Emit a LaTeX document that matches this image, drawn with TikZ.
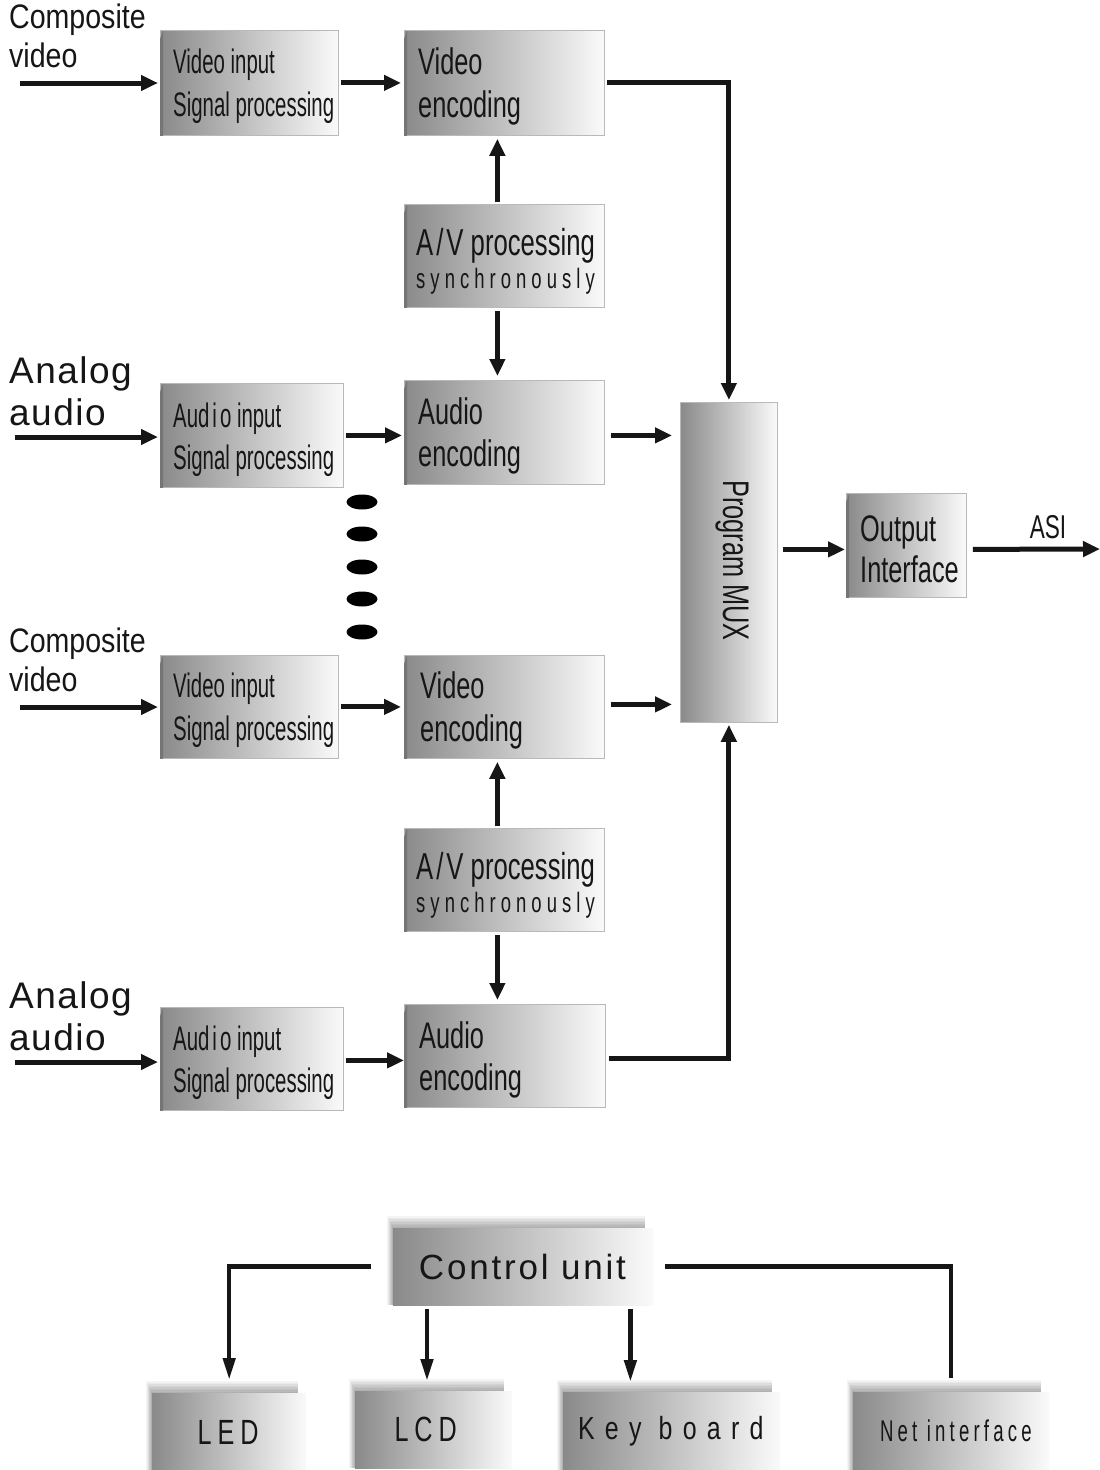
\documentclass[tikz,border=0pt]{standalone}
\usepackage{fontspec}
\setmainfont{Liberation Sans}
\newfontfamily\fA[FakeStretch=0.60]{Liberation Sans}
\newfontfamily\fB[FakeStretch=0.685]{Liberation Sans}
\newfontfamily\fC[FakeStretch=0.84]{Liberation Sans}
\newfontfamily\fSync[FakeStretch=0.66,LetterSpace=18]{Liberation Sans}
\newfontfamily\fLed[FakeStretch=0.72,LetterSpace=17]{Liberation Sans}
\newfontfamily\fKey[FakeStretch=0.78,LetterSpace=32]{Liberation Sans}
\newfontfamily\fNet[FakeStretch=0.62,LetterSpace=14]{Liberation Sans}
\newfontfamily\fCtl[LetterSpace=8]{Liberation Sans}
\newfontfamily\fAna[LetterSpace=4]{Liberation Sans}
\usetikzlibrary{arrows.meta,shapes.geometric,calc}
\definecolor{gdark}{RGB}{138,138,138}
\definecolor{glight}{RGB}{250,250,250}
\definecolor{edgec}{RGB}{185,185,185}
\definecolor{ink}{RGB}{22,22,22}
\newcommand{\bevl}[1]{\fill[gdark!85!black] ([yshift=-9pt]#1.north west) -- ([xshift=3pt,yshift=-1pt]#1.north west) -- ([xshift=3pt]#1.south west) -- (#1.south west) -- cycle;}
\newcommand{\sbx}[7]{%
  \foreach \k in {1,...,8}{\fill[black,opacity=0.045] ({#2-0.7*\k},{#3-1.5*\k}) rectangle ({#2+#4-8},{#3+#5});}
  \node[sbox, minimum width=#4pt, minimum height=#5pt] (#1) at (#2,#3) {#6 #7};}
\begin{document}
\begin{tikzpicture}[x=1pt,y=-1pt,
  blk/.style={draw=edgec, line width=0.8pt, left color=gdark, right color=glight, anchor=north west, inner sep=0pt},
  sbox/.style={left color=gdark, right color=glight, anchor=north west, inner sep=0pt, text=ink},
  lbl/.style={anchor=west, align=left, inner sep=0pt, text=ink},
  ext/.style={anchor=north west, align=left, inner sep=0pt, text=ink},
  arr/.style={line width=5pt, draw=ink, -{Triangle[length=17pt,width=15pt]}},
  carr/.style={line width=4.5pt, draw=ink, -{Triangle[length=22pt,width=12pt]}},
  cline/.style={line width=4.5pt, draw=ink},
  dotn/.style={ellipse, fill=black, minimum width=31pt, minimum height=15pt, inner sep=0pt},
]
\path[use as bounding box, fill=white] (0,0) rectangle (1100,1470);

% ---------- external labels ----------
\node[ext, font=\fC\fontsize{34}{39}\selectfont] (lcv1) at (9,3.5) {Composite\\video};
\node[ext, font=\fAna\fontsize{37}{42}\selectfont] (laa1) at (9,356) {Analog\\audio};
\node[ext, font=\fC\fontsize{34}{39}\selectfont] (lcv2) at (9,627.5) {Composite\\video};
\node[ext, font=\fAna\fontsize{37}{42}\selectfont] (laa2) at (9,981) {Analog\\audio};

% ---------- first channel ----------
\node[blk, minimum width=178pt, minimum height=105pt] (vis1) at (160,30) {};
\bevl{vis1}
\node[lbl, font=\fA\fontsize{34}{43}\selectfont] (vis1t) at ([xshift=13pt,yshift=-3pt]vis1.west) {Video input\\Signal processing};

\node[blk, minimum width=200pt, minimum height=105pt] (ve1) at (404,30) {};
\bevl{ve1}
\node[lbl, font=\fB\fontsize{37}{43}\selectfont] (ve1t) at ([xshift=14pt,yshift=-4pt]ve1.west) {Video\\encoding};

\node[blk, minimum width=200pt, minimum height=103pt] (av1) at (404,204) {};
\bevl{av1}
\node[lbl, font=\fontsize{28}{33}\selectfont] (av1t) at ([xshift=12pt,yshift=-5pt]av1.west) {{\fB\fontsize{37.5}{37.5}\selectfont A\kern3pt/\kern3pt V processing}\\{\fSync\fontsize{28}{33}\selectfont synchronously}};

\node[blk, minimum width=183pt, minimum height=104pt] (ai1) at (160,383) {};
\bevl{ai1}
\node[lbl, font=\fA\fontsize{34}{42}\selectfont] (ai1t) at ([xshift=13pt,yshift=-4pt]ai1.west) {Aud\kern3pt i\kern3pt o input\\Signal processing};

\node[blk, minimum width=200pt, minimum height=104pt] (ae1) at (404,380) {};
\bevl{ae1}
\node[lbl, font=\fB\fontsize{37}{42}\selectfont] (ae1t) at ([xshift=14pt,yshift=-4pt]ae1.west) {Audio\\encoding};

% ---------- dots ----------
\node[dotn] (d1) at (362,502) {};
\node[dotn] (d2) at (362,534) {};
\node[dotn] (d3) at (362,567) {};
\node[dotn] (d4) at (362,599) {};
\node[dotn] (d5) at (362,632) {};

% ---------- second channel ----------
\node[blk, minimum width=178pt, minimum height=103pt] (vis2) at (160,655) {};
\bevl{vis2}
\node[lbl, font=\fA\fontsize{34}{43}\selectfont] (vis2t) at ([xshift=13pt,yshift=-3pt]vis2.west) {Video input\\Signal processing};

\node[blk, minimum width=200pt, minimum height=103pt] (ve2) at (404,655) {};
\bevl{ve2}
\node[lbl, font=\fB\fontsize{37}{43}\selectfont] (ve2t) at ([xshift=16pt,yshift=-4pt]ve2.west) {Video\\encoding};

\node[blk, minimum width=200pt, minimum height=103pt] (av2) at (404,828) {};
\bevl{av2}
\node[lbl, font=\fontsize{28}{33}\selectfont] (av2t) at ([xshift=12pt,yshift=-5pt]av2.west) {{\fB\fontsize{37.5}{37.5}\selectfont A\kern3pt/\kern3pt V processing}\\{\fSync\fontsize{28}{33}\selectfont synchronously}};

\node[blk, minimum width=183pt, minimum height=103pt] (ai2) at (160,1007) {};
\bevl{ai2}
\node[lbl, font=\fA\fontsize{34}{42}\selectfont] (ai2t) at ([xshift=13pt,yshift=-4pt]ai2.west) {Aud\kern3pt i\kern3pt o input\\Signal processing};

\node[blk, minimum width=201pt, minimum height=103pt] (ae2) at (404,1004) {};
\bevl{ae2}
\node[lbl, font=\fB\fontsize{37}{42}\selectfont] (ae2t) at ([xshift=15pt,yshift=-4pt]ae2.west) {Audio\\encoding};

% ---------- MUX and output ----------
\node[blk, minimum width=97pt, minimum height=320pt] (mux) at (680,402) {};
\node[rotate=-90, font=\fB\fontsize{37}{40}\selectfont, text=ink, inner sep=0pt] (muxt) at ([xshift=3pt,yshift=2pt]mux.center) {Program MUX};

\node[blk, minimum width=120pt, minimum height=104pt] (out) at (846,493) {};
\bevl{out}
\node[lbl, font=\fB\fontsize{37}{41}\selectfont] (outt) at ([xshift=14pt,yshift=-4pt]out.west) {Output\\Interface};

\node[anchor=base, font=\fB\fontsize{33}{33}\selectfont, inner sep=0pt, text=ink] (asi) at (1048,538) {ASI};

% ---------- connectors, top ----------
\coordinate (cv1) at (20,83);
\draw[arr, shorten >=2pt] (cv1) -- (cv1 -| vis1.west);
\draw[arr, shorten <=2pt, shorten >=3pt] (vis1.east) -- (vis1.east -| ve1.west);
\draw[arr, shorten <=2pt, shorten >=2pt] (ve1.east) -| (mux.north);
\coordinate (av1n) at ([xshift=-7pt]av1.north);
\coordinate (av1s) at ([xshift=-7pt]av1.south);
\draw[arr, shorten <=2pt, shorten >=3pt] (av1n) -- (av1n |- ve1.south);
\draw[arr, shorten <=3pt, shorten >=4pt] (av1s) -- (av1s |- ae1.north);
\coordinate (aa1) at (15,437);
\draw[arr, shorten >=2pt] (aa1) -- (aa1 -| ai1.west);
\draw[arr, shorten <=2pt, shorten >=2pt] (ai1.east) -- (ai1.east -| ae1.west);
\coordinate (ae1o) at ([yshift=-3pt]ae1.east);
\draw[arr, shorten <=6pt, shorten >=8pt] (ae1o) -- (ae1o -| mux.west);

% ---------- connectors, second ----------
\coordinate (cv2) at (20,707);
\draw[arr, shorten >=2pt] (cv2) -- (cv2 -| vis2.west);
\draw[arr, shorten <=2pt, shorten >=3pt] (vis2.east) -- (vis2.east -| ve2.west);
\coordinate (ve2o) at ([yshift=2.5pt]ve2.east);
\draw[arr, shorten <=6pt, shorten >=8pt] (ve2o) -- (ve2o -| mux.west);
\coordinate (av2n) at ([xshift=-7pt]av2.north);
\coordinate (av2s) at ([xshift=-7pt]av2.south);
\draw[arr, shorten <=2pt, shorten >=3pt] (av2n) -- (av2n |- ve2.south);
\draw[arr, shorten <=3pt, shorten >=4pt] (av2s) -- (av2s |- ae2.north);
\coordinate (aa2) at (15,1062);
\draw[arr, shorten >=2pt] (aa2) -- (aa2 -| ai2.west);
\coordinate (ai2o) at ([yshift=-1.5pt]ai2.east);
\draw[arr, shorten <=2pt, shorten >=0pt] (ai2o) -- (ai2o -| ae2.west);
\coordinate (ae2o) at ([yshift=-2.5pt]ae2.east);
\draw[arr, shorten <=3pt, shorten >=2pt] (ae2o) -| (mux.south);

% ---------- MUX to output ----------
\coordinate (mo) at ([yshift=-4pt]out.west);
\draw[arr, shorten <=5pt, shorten >=1pt] (mo -| mux.east) -- (mo);
\coordinate (asiend) at (1100,549);
\draw[arr, shorten <=6pt] (mo -| out.east) -- (asiend);

% ---------- control section ----------
\sbx{ctrl}{393}{1228}{260}{77}{\fCtl\fontsize{35}{35}\selectfont}{\kern-14pt Control unit}
\sbx{led}{152}{1393}{154}{78}{\fLed\fontsize{35}{35}\selectfont}{\kern-15pt LED}
\sbx{lcd}{355}{1391}{157}{77}{\fLed\fontsize{35}{35}\selectfont}{\kern-29pt LCD}
\sbx{key}{563}{1392}{217}{78}{\fKey\fontsize{32}{32}\selectfont}{\kern-19pt Key board}
\sbx{net}{853}{1392}{196}{78}{\fNet\fontsize{30}{30}\selectfont}{Net interface}

\draw[carr, shorten <=22pt, shorten >=13pt] (ctrl.west) -| (led.north);
\coordinate (lcdx) at ([xshift=34pt]ctrl.south west);
\draw[carr, shorten <=4pt, shorten >=10pt] (lcdx) -- (lcdx |- lcd.north);
\coordinate (keyx) at ([xshift=-23pt]ctrl.south east);
\draw[carr, shorten <=4pt, shorten >=10pt] (keyx) -- (keyx |- key.north);
\draw[cline, shorten <=12pt, shorten >=14pt] (ctrl.east) -| (net.north);
\end{tikzpicture}
\end{document}
